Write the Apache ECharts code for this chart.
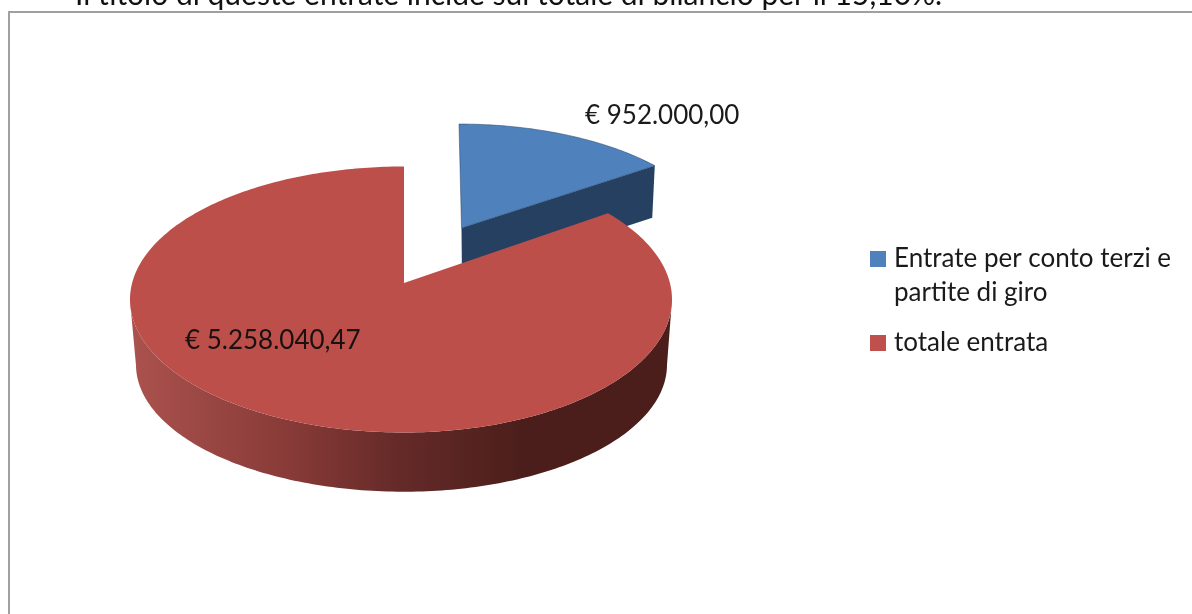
<!DOCTYPE html>
<html>
<head>
<meta charset="utf-8">
<style>html,body{margin:0;padding:0;background:#fff}#chart{width:1192px;height:614px}</style>
<script src="https://cdn.jsdelivr.net/npm/echarts@6/dist/echarts.min.js"></script>
</head>
<body>
<div id="chart"></div>
<script>
// Pie data
const categories = ["Entrate per conto terzi e\npartite di giro", "totale entrata"];
const values = [952000.00, 5258040.47];
const valueLabels = ["€ 952.000,00", "€ 5.258.040,47"];
const captionText = "Il titolo di queste entrate incide sul totale di bilancio per il 15,10%.";

const FONT = "Lato, 'Open Sans', sans-serif";
const total = values.reduce((a, b) => a + b, 0);

// Perspective disc: maps a pie angle onto a rim with the apex off the ellipse centre
function rimPoint(disc, phi) {
  const s = Math.sin(phi), c = Math.cos(phi), k = disc.k;
  const rx = s >= 0 ? disc.rxR : disc.rxL;
  const y = disc.ay - disc.ry * ((c + k) / (1 + k * c) - k);
  const x = disc.ax + rx * s * Math.sqrt(1 - k * k) / (1 + k * c) + (disc.lean || 0) * (y - disc.ay);
  return [x, y];
}

function rim(disc, from, to) {
  const pts = [];
  const steps = Math.max(8, Math.round((to - from) * 60));
  for (let i = 0; i <= steps; i++) pts.push(rimPoint(disc, from + (to - from) * i / steps));
  return pts;
}

// Angles come from the values
function sliceAngles(index) {
  let start = 0;
  for (let i = 0; i < index; i++) start += values[i] / total * Math.PI * 2;
  return [start, start + values[index] / total * Math.PI * 2];
}

function renderBlue(params, api) {
  const [a0, a1] = sliceAngles(0);
  const top = { ax: 461.5, ay: 228, ry: 118.7, rxR: 256, rxL: 256, k: 0.124, lean: 0.024 };
  const bottom = { ax: 462, ay: 280, ry: 118.7, rxR: 252, rxL: 252, k: 0.124, lean: 0.024 };
  const topEnd = rimPoint(top, a1);
  const bottomEnd = rimPoint(bottom, a1);
  return {
    type: "group",
    children: [
      { type: "polygon", shape: { points: [[top.ax, top.ay], topEnd, bottomEnd, [bottom.ax, bottom.ay]] }, style: { fill: "#254061" } },
      { type: "polygon", shape: { points: [[top.ax, top.ay], ...rim(top, a0, a1)] }, style: { fill: "#4f81bd", stroke: "#254061", lineWidth: 0.5 } },
      { type: "text", z2: 5, style: { x: 585, y: 116, text: valueLabels[0], fill: "#1a1a1a", font: "26px " + FONT, verticalAlign: "middle" } }
    ]
  };
}

function renderRed(params, api) {
  const [a0, a1] = sliceAngles(1);
  const top = { ax: 404, ay: 283, ry: 133, rxR: 268, rxL: 274, k: 0.124 };
  const bottom = { ax: 404, ay: 349, ry: 127, rxR: 263, rxL: 268, k: 0.124 };
  const topRim = rim(top, a0, a1);
  const bottomRim = rim(bottom, a0, a1);
  // Wall runs between the widest points of the rim
  let right = 0, left = 0;
  topRim.forEach((p, i) => {
    if (p[0] > topRim[right][0]) right = i;
    if (p[0] < topRim[left][0]) left = i;
  });
  const wall = topRim.slice(right, left + 1).concat(bottomRim.slice(right, left + 1).reverse());
  const shade = new echarts.graphic.LinearGradient(130, 0, 672, 0, [
    { offset: 0, color: "#ab524e" },
    { offset: 0.3, color: "#873a37" },
    { offset: 0.5, color: "#642a28" },
    { offset: 0.72, color: "#4c1e1b" },
    { offset: 1, color: "#4c1e1b" }
  ], true);
  return {
    type: "group",
    children: [
      { type: "polygon", shape: { points: wall }, style: { fill: shade } },
      { type: "polygon", shape: { points: [[top.ax, top.ay], ...topRim] }, style: { fill: "#bd4f4b" } },
      { type: "text", z2: 5, style: { x: 185, y: 341, text: valueLabels[1], fill: "#1a1010", font: "26px " + FONT, verticalAlign: "middle" } }
    ]
  };
}

const chart = echarts.init(document.getElementById("chart"));
chart.setOption({
  animation: false,
  backgroundColor: "#fff",
  color: ["#4f81bd", "#c0504d"],
  legend: {
    left: 870,
    top: 242,
    orient: "vertical",
    itemWidth: 16,
    itemHeight: 50,
    itemGap: 8,
    padding: 0,
    // tall icon boxes keep the squares on the first text line
    data: [
      { name: categories[0], icon: "path://M0 0h16v16H0z M0 49.99h.01v.01H0z" },
      { name: categories[1], icon: "path://M0 0h.01v.01H0z M0 17h16v16H0z M0 49.99h.01v.01H0z" }
    ],
    selectedMode: false,
    textStyle: { fontFamily: FONT, fontSize: 26, color: "#1a1a1a", lineHeight: 34, padding: [0, 0, 0, 3] }
  },
  graphic: [
    { type: "polyline", silent: true, shape: { points: [[9, 614], [9, 12], [1192, 12]] }, style: { stroke: "#a0a0a0", lineWidth: 2, fill: null } },
    { type: "text", silent: true, style: { x: 75, y: 10, text: captionText, fill: "#111", font: "30px " + FONT, verticalAlign: "bottom" } }
  ],
  series: [
    { name: categories[0], type: "custom", coordinateSystem: "none", data: [values[0]], renderItem: renderBlue, itemStyle: { color: "#4f81bd" } },
    { name: categories[1], type: "custom", coordinateSystem: "none", data: [values[1]], renderItem: renderRed, itemStyle: { color: "#c0504d" } }
  ]
});
window.addEventListener("resize", () => chart.resize());
</script>
</body>
</html>
